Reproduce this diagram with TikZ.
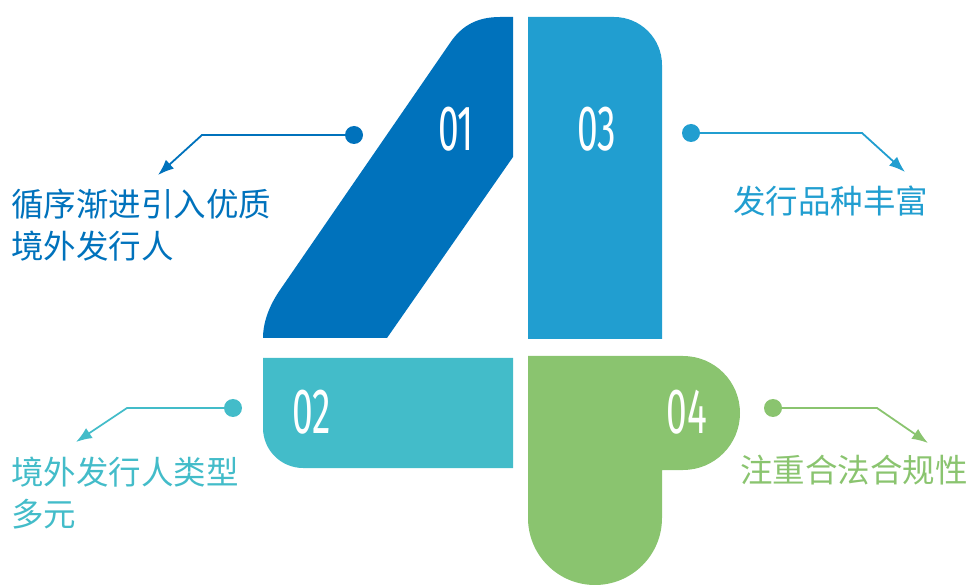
\documentclass[tikz,border=0pt]{standalone}
\usepackage{fontspec}
\newfontfamily\cjk{Noto Sans CJK SC}
\newfontfamily\numfont{Fira Sans}
\usetikzlibrary{arrows.meta}

\definecolor{darkblue}{RGB}{0,114,188}
\definecolor{teal}{RGB}{67,188,201}
\definecolor{skyblue}{RGB}{33,158,208}
\definecolor{leafgreen}{RGB}{138,196,111}

\begin{document}
\begin{tikzpicture}[x=1pt,y=-1pt,
  numtxt/.style={text=white,inner sep=0pt},
  desc/.style={inner sep=0pt,anchor=west,align=left,font=\cjk\fontsize{32.5}{42}\selectfont},
  dotnode/.style={circle,fill,inner sep=0pt,minimum size=18pt},
  conn/.style={line width=1.8pt,-{Latex[length=16pt,width=12pt]}}]

  \useasboundingbox (0,0) rectangle (970,585);

  %shapes
  %first block
  \fill[darkblue] (513,17) -- (513,157) -- (387,338) -- (263,338)
    .. controls (263,320) and (271,303) .. (280,290) -- (450,43)
    .. controls (462,25) and (478,17) .. (500,17) -- cycle;
  %second block
  \fill[teal] (263,358) -- (513,358) -- (513,468) -- (303,468)
    .. controls (281,468) and (263,450) .. (263,428) -- cycle;
  %third block
  \fill[skyblue] (528,339) -- (528,17) -- (614,17)
    .. controls (640.5,17) and (662,38.5) .. (662,65) -- (662,339) -- cycle;
  %fourth block
  \fill[leafgreen] (528,356) -- (683,356)
    .. controls (714.5,356) and (740,381.5) .. (740,413)
    .. controls (740,444.5) and (714.5,470) .. (683,470) -- (662,470) -- (662,518)
    .. controls (662,555) and (632,585) .. (595,585)
    .. controls (558,585) and (528,555) .. (528,518) -- cycle;

  %numbers
  \node[numtxt] (n1) at (456,129) {\numfont\scalebox{0.58}[1]{\fontsize{64}{64}\selectfont 01}};
  \node[numtxt] (n2) at (312,412) {\numfont\scalebox{0.58}[1]{\fontsize{64}{64}\selectfont 02}};
  \node[numtxt] (n3) at (597,129) {\numfont\scalebox{0.58}[1]{\fontsize{64}{64}\selectfont 03}};
  \node[numtxt] (n4) at (687,412) {\numfont\scalebox{0.58}[1]{\fontsize{64}{64}\selectfont 04}};

  %labels
  \node[desc,text=darkblue] (t1) at (11,225) {循序渐进引入优质\\境外发行人};
  \node[desc,text=teal] (t2) at (11,493) {境外发行人类型\\多元};
  \node[desc,text=skyblue] (t3) at (733,201) {发行品种丰富};
  \node[desc,text=leafgreen] (t4) at (740,470) {注重合法合规性};

  %connectors
  \node[dotnode,darkblue] (d1) at (354,135) {};
  \coordinate (k1) at (202,135);
  \coordinate (a1) at (158,175);
  \draw[conn,darkblue] (d1) -- (k1) -- (a1);

  \node[dotnode,teal] (d2) at (233,408) {};
  \coordinate (k2) at (127,408);
  \coordinate (a2) at (76,442);
  \draw[conn,teal] (d2) -- (k2) -- (a2);

  \node[dotnode,skyblue] (d3) at (691,133) {};
  \coordinate (k3) at (862,133);
  \coordinate (a3) at (905,172);
  \draw[conn,skyblue] (d3) -- (k3) -- (a3);

  \node[dotnode,leafgreen] (d4) at (773,408) {};
  \coordinate (k4) at (877,408);
  \coordinate (a4) at (928,443);
  \draw[conn,leafgreen] (d4) -- (k4) -- (a4);

\end{tikzpicture}
\end{document}
